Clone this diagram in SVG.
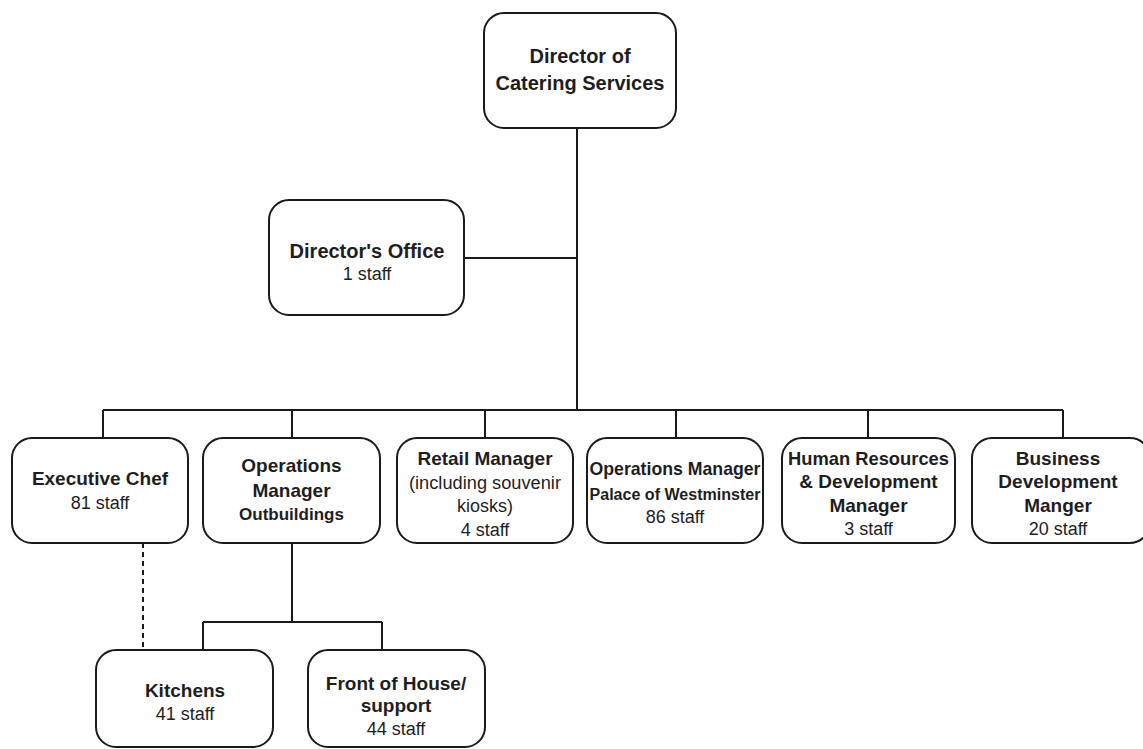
<svg xmlns="http://www.w3.org/2000/svg" width="1143" height="749" viewBox="0 0 1143 749">
  <style>
    .box { fill: #ffffff; stroke: #1a1a1a; stroke-width: 2; }
    .link { fill: none; stroke: #1a1a1a; stroke-width: 2; }
    .dash { stroke-dasharray: 5 4; }
    text { font-family: "Liberation Sans", Arial, sans-serif; fill: #1e1e1e; text-anchor: middle; }
    .t { font-weight: bold; font-size: 19px; }
    .tl { font-weight: bold; font-size: 20px; }
    .s { font-size: 18px; }
  </style>

  <rect width="1143" height="749" fill="#ffffff"/>

  <!-- connectors -->
  <g id="connectors">
    <path class="link" d="M577 128 V410"/>
    <path class="link" d="M464 258 H577"/>
    <path class="link" d="M103 410 H1063"/>
    <path class="link" d="M103 410 V438 M292 410 V438 M485 410 V438 M676 410 V438 M868 410 V438 M1063 410 V438"/>
    <path class="link" d="M292 543 V622 M203 622 H382 M203 622 V650 M382 622 V650"/>
    <path class="link dash" d="M143 543 V650"/>
  </g>

  <g id="director">
    <rect class="box" x="484" y="13" width="192" height="115" rx="20"/>
    <text class="tl" x="580" y="63">Director of</text>
    <text class="tl" x="580" y="90">Catering Services</text>
  </g>

  <g id="directors-office">
    <rect class="box" x="269" y="200" width="195" height="115" rx="20"/>
    <text class="tl" x="367" y="258">Director's Office</text>
    <text class="s" x="367" y="280">1 staff</text>
  </g>

  <g id="executive-chef">
    <rect class="box" x="12" y="438" width="176" height="105" rx="20"/>
    <text class="t" x="100" y="485">Executive Chef</text>
    <text class="s" x="100" y="509">81 staff</text>
  </g>

  <g id="ops-outbuildings">
    <rect class="box" x="203" y="438" width="177" height="105" rx="20"/>
    <text class="t" x="291.5" y="472">Operations</text>
    <text class="t" x="291.5" y="497">Manager</text>
    <text class="t" x="291.5" y="520" style="font-size:17px">Outbuildings</text>
  </g>

  <g id="retail-manager">
    <rect class="box" x="397" y="438" width="176" height="105" rx="20"/>
    <text class="t" x="485" y="465">Retail Manager</text>
    <text class="s" x="485" y="489" textLength="152" lengthAdjust="spacingAndGlyphs">(including souvenir</text>
    <text class="s" x="485" y="512">kiosks)</text>
    <text class="s" x="485" y="536">4 staff</text>
  </g>

  <g id="ops-westminster">
    <rect class="box" x="587" y="438" width="176" height="105" rx="20"/>
    <text class="t" x="675" y="475" textLength="171" lengthAdjust="spacingAndGlyphs">Operations Manager</text>
    <text class="t" x="675" y="500" style="font-size:16px" textLength="171" lengthAdjust="spacingAndGlyphs">Palace of Westminster</text>
    <text class="s" x="675" y="523">86 staff</text>
  </g>

  <g id="hr-manager">
    <rect class="box" x="782" y="438" width="173" height="105" rx="20"/>
    <text class="t" x="868.5" y="465" textLength="161" lengthAdjust="spacingAndGlyphs">Human Resources</text>
    <text class="t" x="868.5" y="488">&amp; Development</text>
    <text class="t" x="868.5" y="512">Manager</text>
    <text class="s" x="868.5" y="535">3 staff</text>
  </g>

  <g id="business-development">
    <rect class="box" x="972" y="438" width="178" height="105" rx="20"/>
    <text class="t" x="1058" y="465">Business</text>
    <text class="t" x="1058" y="488">Development</text>
    <text class="t" x="1058" y="512">Manger</text>
    <text class="s" x="1058" y="535">20 staff</text>
  </g>

  <g id="kitchens">
    <rect class="box" x="96" y="650" width="177" height="97" rx="20"/>
    <text class="t" x="185" y="697">Kitchens</text>
    <text class="s" x="185" y="720">41 staff</text>
  </g>

  <g id="front-of-house">
    <rect class="box" x="308" y="650" width="177" height="97" rx="20"/>
    <text class="t" x="396" y="690">Front of House/</text>
    <text class="t" x="396" y="712">support</text>
    <text class="s" x="396" y="735">44 staff</text>
  </g>
</svg>
